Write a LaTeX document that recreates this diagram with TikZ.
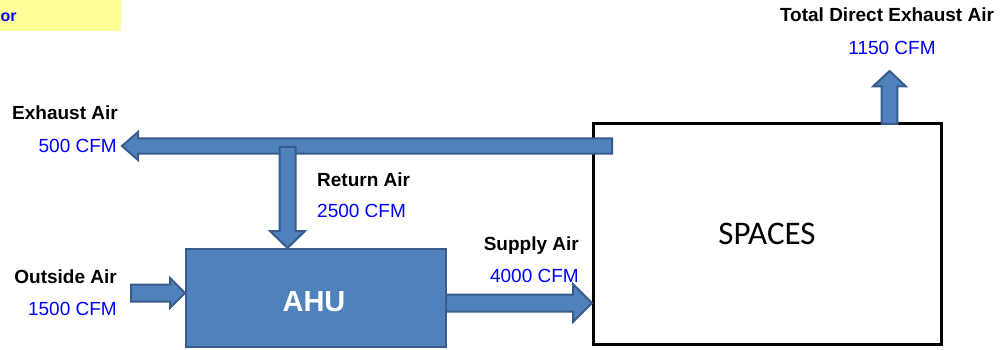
\documentclass[tikz,border=0pt]{standalone}
\usepackage{fontspec}
\setmainfont{Liberation Sans}
\newfontfamily\calibrifont{Carlito}
\usetikzlibrary{calc}
\definecolor{ofblue}{HTML}{4F81BD}
\definecolor{ofedge}{HTML}{385D8A}
\definecolor{cfmblue}{HTML}{0000FF}
\definecolor{notefill}{HTML}{FFFF99}
% #1 tail, #2 tip, #3 shaft half width, #4 head half width, #5 head length
\newcommand\flowarrow[5]{%
  \path ($(#2)!#5pt!(#1)$) coordinate (fa-base);
  \draw[blockarrow]
    ($(#1)!#3pt!90:(#2)$) -- ($(fa-base)!#3pt!90:(#2)$) --
    ($(fa-base)!#4pt!90:(#2)$) -- (#2) --
    ($(fa-base)!#4pt!-90:(#2)$) -- ($(fa-base)!#3pt!-90:(#2)$) --
    ($(#1)!#3pt!-90:(#2)$) -- cycle;
}
\begin{document}
\begin{tikzpicture}[x=1pt,y=-1pt,
  blockarrow/.style={fill=ofblue,draw=ofedge,line width=2pt,line join=miter},
  lbl/.style={font=\fontsize{19}{22}\selectfont\bfseries,inner sep=0pt},
  val/.style={font=\fontsize{19}{22}\selectfont,text=cfmblue,inner sep=0pt},
]
\useasboundingbox (0,0) rectangle (1001,350);
\fill[notefill] (0,0) rectangle (121,31);
\node[anchor=base west,text=cfmblue,font=\fontsize{16}{20}\selectfont\bfseries,inner sep=0pt] (notetext) at (0.5,21.7) {or};

% SPACES box
\node[draw=black,line width=3pt,minimum width=348pt,minimum height=220pt,inner sep=0pt,
      font=\calibrifont\fontsize{33}{38}\selectfont] (spaces) at (767,234) {SPACES};

% named connector ends
\coordinate (exTail) at (612,146);
\coordinate (exTip) at (122,146);
\coordinate (retTail) at (287.5,147);
\coordinate (retTip) at (287.5,248);
\coordinate (supTail) at (446,303);
\coordinate (supTip) at (592,303);
\coordinate (outTail) at (131,293);
\coordinate (outTip) at (185,293);
\coordinate (upTail) at (889.5,124);
\coordinate (upTip) at (889.5,71);

% exhaust (from spaces), return (down into AHU)
\flowarrow{exTail}{exTip}{7.5}{14}{16}
\flowarrow{retTail}{retTip}{8}{17.5}{17}

% AHU box
\node[draw=ofedge,fill=ofblue,line width=2pt,minimum width=260pt,minimum height=98pt,inner sep=0pt] (ahu) at (316,298) {};
\node[anchor=base,text=white,font=\fontsize{29}{34}\selectfont\bfseries,inner sep=0pt] (ahulabel) at (314,311.7) {AHU};

% supply, outside, total exhaust
\flowarrow{supTail}{supTip}{8.5}{19}{19}
\flowarrow{outTail}{outTip}{8.5}{15}{15}
\flowarrow{upTail}{upTip}{7.8}{16.5}{15.5}

% labels
\node[lbl,anchor=base] (totlbl) at (887,21.7) {Total Direct Exhaust Air};
\node[val,anchor=base] (totval) at (892,55) {1150 CFM};
\node[lbl,anchor=base west] (exlbl) at (12,120) {Exhaust Air};
\node[val,anchor=base east] (exval) at (117,153) {500 CFM};
\node[lbl,anchor=base west] (retlbl) at (317,186) {Return Air};
\node[val,anchor=base west] (retval) at (317,217) {2500 CFM};
\node[lbl,anchor=base east] (suplbl) at (579,250.7) {Supply Air};
\node[val,anchor=base east] (supval) at (579,282.7) {4000 CFM};
\node[lbl,anchor=base east] (outlbl) at (117,283.3) {Outside Air};
\node[val,anchor=base east] (outval) at (117,315.7) {1500 CFM};
\end{tikzpicture}
\end{document}
